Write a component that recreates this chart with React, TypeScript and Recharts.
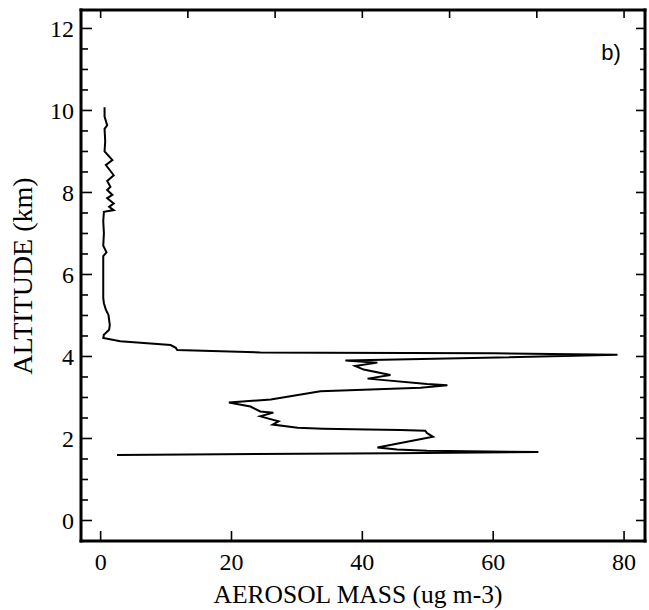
import React from 'react';
import { ScatterChart, Scatter, XAxis, YAxis } from 'recharts';

// Altitude (km) of each sample along the profile, top to bottom
const altitudeKm = [
  10.08, 9.85, 9.64, 9.55, 9.25, 9.0, 8.79, 8.67, 8.42, 8.28,
  8.14, 8.06, 7.94, 7.86, 7.73, 7.65, 7.57, 7.53, 7.3, 7.0,
  6.7, 6.54, 6.45, 6.1, 5.7, 5.43, 5.3, 5.14, 5.01, 4.77,
  4.65, 4.53, 4.45, 4.37, 4.28, 4.21, 4.16, 4.1, 4.09, 4.08,
  4.04, 3.96, 3.9, 3.85, 3.77, 3.68, 3.55, 3.46, 3.33, 3.3,
  3.24, 3.15, 2.95, 2.88, 2.78, 2.66, 2.63, 2.54, 2.42, 2.34,
  2.26, 2.24, 2.22, 2.21, 2.19, 2.13, 2.04, 1.78, 1.73, 1.7,
  1.67, 1.64, 1.6,
];

// Aerosol mass (ug m-3) at each altitude above
const aerosolMass = [
  0.6, 0.6, 1.0, 0.6, 0.7, 0.6, 1.8, 0.8, 2.0, 1.0,
  1.5, 1.0, 1.8, 1.0, 2.0, 1.3, 2.0, 0.5, 0.4, 0.5,
  0.4, 0.9, 0.4, 0.4, 0.4, 0.4, 0.5, 0.8, 1.2, 1.4,
  1.3, 0.5, 0.4, 3.0, 10.7, 11.5, 11.7, 24.4, 33.6, 60.0,
  79.0, 56.8, 37.4, 42.3, 38.9, 40.2, 44.3, 40.8, 49.9, 53.0,
  48.9, 33.6, 26.0, 19.6, 22.9, 24.4, 26.4, 24.4, 27.2, 26.3,
  30.1, 34.0, 40.8, 45.8, 49.6, 49.9, 50.8, 42.3, 45.3, 49.9,
  66.9, 45.0, 2.5,
];

const xTicks = [0, 20, 40, 60, 80];
const xTopTicks = [0, 13.333, 26.667, 40, 53.333, 66.667, 80];
const yTicks = [
  0, 0.5, 1, 1.5, 2, 2.5, 3, 3.5, 4, 4.5, 5, 5.5, 6, 6.5, 7, 7.5, 8,
  8.5, 9, 9.5, 10, 10.5, 11, 11.5, 12,
];
const yLabelTicks = [0, 2, 4, 6, 8, 10, 12];

const xTitle = 'AEROSOL MASS (ug m-3)';
const yTitle = 'ALTITUDE (km)';
const panelTag = 'b)';

const data = altitudeKm.map((alt, i) => ({ alt, mass: aerosolMass[i] }));

const SERIF = '"Liberation Serif", "Times New Roman", serif';
const SANS = '"Liberation Sans", Arial, sans-serif';

const isLabelled = (v: number) => yLabelTicks.some((t) => Math.abs(t - v) < 1e-6);

const LeftTick = (props: any) => {
  const { x, y, payload } = props;
  const v = payload.value;
  const major = isLabelled(v);
  return (
    <g>
      <line x1={x} y1={y} x2={x + (major ? 11 : 7)} y2={y} stroke="#000" strokeWidth={1.6} />
      {major && (
        <text x={x - 7} y={y} dy="0.35em" textAnchor="end" fontFamily={SERIF} fontSize={24} fill="#000">
          {v}
        </text>
      )}
    </g>
  );
};

const RightTick = (props: any) => {
  const { x, y, payload } = props;
  const major = isLabelled(payload.value);
  return <line x1={x} y1={y} x2={x - (major ? 9 : 5)} y2={y} stroke="#000" strokeWidth={1.6} />;
};

const BottomTick = (props: any) => {
  const { x, y, payload } = props;
  return (
    <g>
      <line x1={x} y1={y} x2={x} y2={y - 10} stroke="#000" strokeWidth={1.6} />
      <text x={x} y={y + 29} textAnchor="middle" fontFamily={SERIF} fontSize={24} fill="#000">
        {payload.value}
      </text>
    </g>
  );
};

const TopTick = (props: any) => {
  const { x, y } = props;
  return <line x1={x} y1={y} x2={x} y2={y + 8} stroke="#000" strokeWidth={1.6} />;
};

const axisLineStyle = { stroke: '#000', strokeWidth: 3, strokeLinecap: 'square' as const };

export default function App() {
  return (
    <div style={{ position: 'absolute', left: 0, top: 0, background: '#fff' }}>
      <ScatterChart width={649} height={610} margin={{ top: 0, right: 0, bottom: 0, left: 0 }}>
        <XAxis
          xAxisId="bottom"
          type="number"
          dataKey="mass"
          orientation="bottom"
          domain={[-3, 83.2]}
          allowDataOverflow
          ticks={xTicks}
          interval={0}
          height={69}
          tickSize={0}
          tickMargin={0}
          tickLine={false}
          axisLine={axisLineStyle}
          tick={<BottomTick />}
          label={{
            content: () => (
              <text x={358} y={603} textAnchor="middle" fontFamily={SERIF} fontSize={25.5} fill="#000">
                {xTitle}
              </text>
            ),
          }}
        />
        <XAxis
          xAxisId="top"
          type="number"
          dataKey="mass"
          orientation="top"
          domain={[-3, 83.2]}
          allowDataOverflow
          ticks={xTopTicks}
          interval={0}
          height={10}
          tickSize={0}
          tickMargin={0}
          tickLine={false}
          axisLine={axisLineStyle}
          tick={<TopTick />}
        />
        <YAxis
          yAxisId="left"
          type="number"
          dataKey="alt"
          orientation="left"
          domain={[-0.5, 12.45]}
          allowDataOverflow
          ticks={yTicks}
          interval={0}
          width={81}
          tickSize={0}
          tickMargin={0}
          tickLine={false}
          axisLine={axisLineStyle}
          tick={<LeftTick />}
          label={{
            content: () => (
              <text
                x={32}
                y={276}
                textAnchor="middle"
                transform="rotate(-90, 32, 276)"
                fontFamily={SERIF}
                fontSize={28}
                fill="#000"
              >
                {yTitle}
              </text>
            ),
          }}
        />
        <YAxis
          yAxisId="right"
          type="number"
          dataKey="alt"
          orientation="right"
          domain={[-0.5, 12.45]}
          allowDataOverflow
          ticks={yTicks}
          interval={0}
          width={4}
          tickSize={0}
          tickMargin={0}
          tickLine={false}
          axisLine={axisLineStyle}
          tick={<RightTick />}
          label={{
            content: () => (
              <text x={611} y={60} textAnchor="middle" fontFamily={SANS} fontSize={22} fill="#000">
                {panelTag}
              </text>
            ),
          }}
        />
        <Scatter
          data={data}
          xAxisId="bottom"
          yAxisId="left"
          fill="#000"
          line={{ stroke: '#000', strokeWidth: 2 }}
          shape={() => <g />}
          isAnimationActive={false}
        />
      </ScatterChart>
    </div>
  );
}
